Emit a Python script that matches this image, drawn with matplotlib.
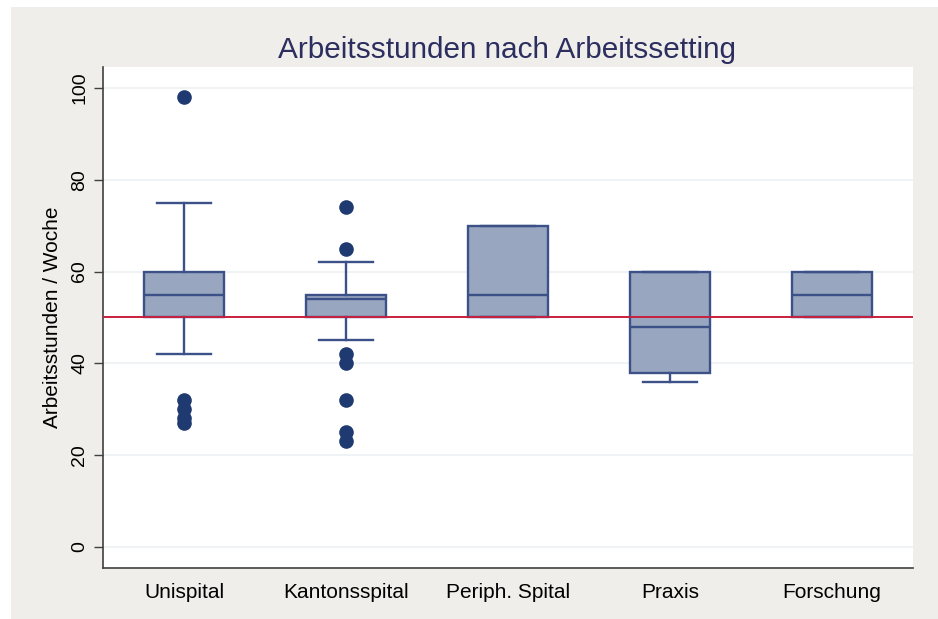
import numpy as np
import matplotlib
matplotlib.use("Agg")
import matplotlib.pyplot as plt
from matplotlib.patches import Rectangle

plt.rcParams['font.family'] = ['Liberation Sans', 'DejaVu Sans']

# Werte
settings = ["Unispital", "Kantonsspital", "Periph. Spital", "Praxis", "Forschung"]
q1 = [50, 50, 50, 38, 50]
median = [55, 54, 55, 48, 55]
q3 = [60, 55, 70, 60, 60]
whisker_low = [42, 45, 50, 36, 50]
whisker_high = [75, 62, 70, 60, 60]
outliers = [
    [98, 32, 30, 28, 27],
    [74, 65, 42, 40, 32, 25, 23],
    [],
    [],
    [],
]
reference_hours = 50
y_ticks = [0, 20, 40, 60, 80, 100]

box_fill = "#98a6bf"
box_edge = "#3c5187"
dot_color = "#1f3a70"
red = "#c8203f"

fig = plt.figure(figsize=(9.38, 6.19), dpi=100)
fig.patch.set_facecolor("white")
# grauer Hintergrund (Stata-Stil)
fig.patches.append(Rectangle((11 / 938, 0), 927 / 938, 612 / 619,
                             transform=fig.transFigure, facecolor="#efeeea",
                             edgecolor="none", zorder=-10))

ax = fig.add_axes([0.1098, 0.0824, 0.8635, 0.8094])
ax.set_facecolor("white")

stats = []
for i, name in enumerate(settings):
    stats.append({
        "label": name,
        "q1": q1[i], "med": median[i], "q3": q3[i],
        "whislo": whisker_low[i], "whishi": whisker_high[i],
        "fliers": np.array(outliers[i]),
    })

positions = np.arange(1, len(settings) + 1)
line_kw = dict(color=box_edge, linewidth=1.7)
ax.bxp(stats, positions=positions, widths=0.49, capwidths=0.33,
       patch_artist=True, showfliers=True,
       boxprops=dict(facecolor=box_fill, edgecolor=box_edge, linewidth=1.7),
       medianprops=line_kw, whiskerprops=line_kw, capprops=line_kw,
       flierprops=dict(marker="o", markerfacecolor=dot_color,
                       markeredgecolor=dot_color, markersize=9.5),
       zorder=3)

ax.axhline(reference_hours, color=red, linewidth=1.4, zorder=4)

ax.set_xlim(0.5, 5.5)
ax.set_ylim(-4.6, 104.6)
ax.set_yticks(y_ticks)
ax.set_yticklabels([str(v) for v in y_ticks], rotation=90, va="center",
                   fontsize=14)
ax.set_xticks(positions)
ax.set_xticklabels(settings, fontsize=15)
ax.tick_params(axis="x", length=0, pad=11)
ax.tick_params(axis="y", length=6.5, width=1, color="#404040", pad=4)

ax.grid(axis="y", color="#eef1f4", linewidth=1.2, zorder=0)
ax.set_axisbelow(True)

for s in ["top", "right"]:
    ax.spines[s].set_visible(False)
for s in ["left", "bottom"]:
    ax.spines[s].set_color("#404040")
    ax.spines[s].set_linewidth(1.2)

ax.set_ylabel("Arbeitsstunden / Woche", fontsize=15, labelpad=7)
fig.text(0.541, 0.919, "Arbeitsstunden nach Arbeitssetting",
         ha="center", va="center", fontsize=21.4, color="#2b2e5e")

fig.savefig("out.png", dpi=100)
